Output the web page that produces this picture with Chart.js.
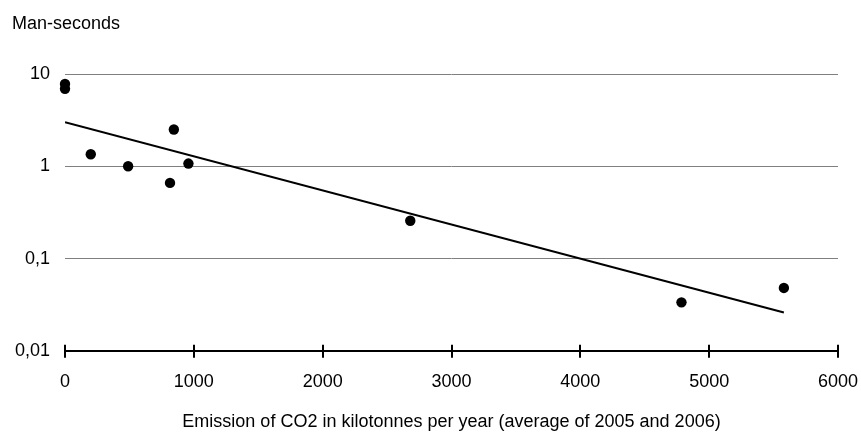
<!DOCTYPE html>
<html>
<head>
<meta charset="utf-8">
<script src="https://cdn.jsdelivr.net/npm/chart.js@4"></script>
<style>
  html, body { margin: 0; padding: 0; background: #fff; }
  #wrap { width: 861px; height: 433px; }
</style>
</head>
<body>
<div id="wrap"><canvas id="myChart"></canvas></div>
<script>
// data
var emission = [0, 0, 200, 490, 815, 845, 958, 2680, 4785, 5580];
var manSeconds = [7.8, 6.9, 1.35, 1.0, 0.66, 2.5, 1.07, 0.257, 0.0335, 0.048];
var trendX = [0, 5580];
var trendY = [3.0, 0.026];
var yTicks = [0.01, 0.1, 1, 10];
var yTickLabels = ["0,01", "0,1", "1", "10"];
var yTitle = "Man-seconds";
var xTitle = "Emission of CO2 in kilotonnes per year (average of 2005 and 2006)";

var fontFam = "'Liberation Sans', Arial, sans-serif";
Chart.defaults.font.family = fontFam;
Chart.defaults.font.size = 18;
Chart.defaults.color = "#000";

var points = emission.map(function(x, i) { return {x: x, y: manSeconds[i]}; });
var trend = trendX.map(function(x, i) { return {x: x, y: trendY[i]}; });

// y title on top + tick marks crossing the x axis
var extras = {
  id: "extras",
  afterDraw: function(chart) {
    var ctx = chart.ctx;
    var xs = chart.scales.x;
    var yb = chart.chartArea.bottom;
    ctx.save();
    ctx.strokeStyle = "#000";
    ctx.lineWidth = 2;
    xs.ticks.forEach(function(t) {
      var px = Math.round(xs.getPixelForValue(t.value));
      ctx.beginPath();
      ctx.moveTo(px, yb - 6);
      ctx.lineTo(px, yb + 7);
      ctx.stroke();
    });
    ctx.fillStyle = "#000";
    ctx.font = "18px " + fontFam;
    ctx.textAlign = "left";
    ctx.textBaseline = "middle";
    ctx.fillText(yTitle, 12, 24);
    ctx.restore();
  }
};

var chart = new Chart("myChart", {
  type: "scatter",
  data: {
    datasets: [{
      label: "trend",
      type: "line",
      data: trend,
      borderColor: "#000",
      borderWidth: 2,
      pointRadius: 0,
      fill: false,
      order: 2
    }, {
      label: "points",
      data: points,
      backgroundColor: "#000",
      borderWidth: 0,
      pointRadius: 5.2,
      clip: false,
      order: 1
    }]
  },
  options: {
    responsive: true,
    maintainAspectRatio: false,
    animation: false,
    layout: {padding: {left: 0, top: 74, right: 23, bottom: 0}},
    plugins: {
      legend: {display: false},
      tooltip: {enabled: false}
    },
    scales: {
      x: {
        type: "linear",
        min: 0,
        max: 6000,
        afterFit: function(scale) { scale.paddingRight = 0; scale.paddingLeft = 0; },
        ticks: {
          stepSize: 1000,
          padding: 20,
          maxRotation: 0,
          callback: function(v) { return String(v); }
        },
        grid: {drawOnChartArea: false, drawTicks: false},
        border: {color: "#000", width: 2},
        title: {display: true, text: xTitle, padding: {top: -1, bottom: 0}}
      },
      y: {
        type: "logarithmic",
        min: 0.01,
        max: 10,
        afterBuildTicks: function(scale) {
          scale.ticks = yTicks.map(function(v) { return {value: v}; });
        },
        afterFit: function(scale) { scale.width = 65; },
        ticks: {
          padding: 15,
          callback: function(v) {
            var i = yTicks.indexOf(v);
            return i >= 0 ? yTickLabels[i] : "";
          }
        },
        grid: {
          drawTicks: false,
          color: function(c) { return c.tick && c.tick.value === 0.01 ? "rgba(0,0,0,0)" : "#808080"; },
          lineWidth: 1
        },
        border: {display: false}
      }
    }
  },
  plugins: [extras]
});
</script>
</body>
</html>
